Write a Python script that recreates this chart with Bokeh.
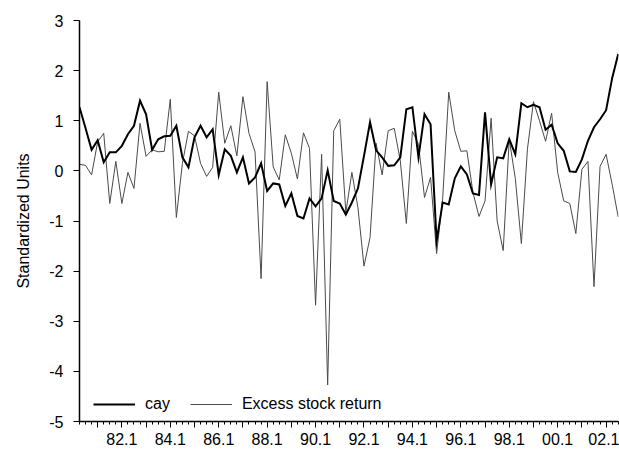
from bokeh.plotting import figure
from bokeh.models import Range1d, FixedTicker, Legend, LegendItem, ColumnDataSource
from bokeh.embed import file_html
from bokeh.resources import INLINE

# ---- data (quarterly, first observation 1980Q2) ----
start_year = 1980
start_quarter = 2

cay = [1.27, 0.85, 0.42, 0.61, 0.17, 0.37, 0.37, 0.50, 0.73, 0.90,
       1.40, 1.13, 0.42, 0.63, 0.69, 0.70, 0.90, 0.27, 0.07, 0.67,
       0.90, 0.67, 0.83, -0.08, 0.43, 0.30, -0.03, 0.27, -0.25, -0.13,
       0.15, -0.40, -0.25, -0.27, -0.70, -0.45, -0.90, -0.95, -0.55, -0.71,
       -0.55, 0.01, -0.60, -0.65, -0.87, -0.63, -0.35, 0.30, 0.97, 0.41,
       0.27, 0.10, 0.11, 0.27, 1.23, 1.27, 0.27, 1.13, 0.93, -1.40,
       -0.63, -0.67, -0.15, 0.09, -0.07, -0.45, -0.48, 1.17, -0.27, 0.27,
       0.25, 0.63, 0.33, 1.35, 1.27, 1.32, 1.27, 0.82, 0.92, 0.55,
       0.40, -0.01, -0.02, 0.23, 0.60, 0.87, 1.03, 1.21, 1.85, 2.33]

excess = [0.13, 0.11, -0.08, 0.58, 0.75, -0.65, 0.19, -0.65, -0.03, -0.35,
          0.95, 0.29, 0.42, 0.38, 0.39, 1.43, -0.93, 0.15, 0.79, 0.70,
          0.15, -0.11, 0.07, 1.57, 0.55, 0.90, 0.30, 1.48, 0.75, 0.38,
          -2.15, 1.78, 0.08, -0.18, 0.72, 0.35, -0.16, 0.76, 0.45, -2.68,
          0.33, -4.27, 0.80, 1.03, -0.83, -0.03, -0.73, -1.90, -1.33, 0.55,
          -0.08, 0.80, 0.85, 0.20, -1.05, 0.79, 0.53, -0.53, -0.13, -1.65,
          -0.55, 1.57, 0.80, 0.39, 0.40, -0.43, -0.91, -0.60, 1.05, -1.00,
          -1.59, 0.63, -0.15, -1.45, 0.43, 1.38, 1.00, 0.59, 1.15, -0.03,
          -0.60, -0.65, -1.25, 0.03, 0.19, -2.31, 0.09, 0.33, -0.27, -0.92]

series_names = ["cay", "Excess stock return"]
y_ticks = [-5, -4, -3, -2, -1, 0, 1, 2, 3]
y_tick_labels = ["-5", "-4", "-3", "-2", "-1", "0", "1", "2", "3"]
year_ticks = list(range(1981, 2003))
label_years = [1982, 1984, 1986, 1988, 1990, 1992, 1994, 1996, 1998, 2000, 2002]
label_texts = ["82.1", "84.1", "86.1", "88.1", "90.1", "92.1", "94.1", "96.1", "98.1", "00.1", "02.1"]

# ---- derived ----
x = [start_year + (start_quarter - 1 + i) / 4 for i in range(len(cay))]
quarter_ticks = list(x)
src = ColumnDataSource(dict(x=x, cay=cay, excess=excess))

FONT = "Liberation Sans"

p = figure(width=619, height=452, output_backend="svg", toolbar_location=None,
           x_range=Range1d(x[0], x[-1] + 0.012), y_range=Range1d(-5, 3),
           min_border_left=79, min_border_top=20, min_border_bottom=31, min_border_right=1)
p.outline_line_color = None
p.background_fill_color = "white"
p.border_fill_color = "white"
p.xgrid.visible = False
p.ygrid.visible = False

r_exc = p.line("x", "excess", source=src, line_color="#4a4a4a", line_width=1, line_join="miter")
r_cay = p.line("x", "cay", source=src, line_color="black", line_width=2, line_join="miter")

# y axis
ya = p.yaxis[0]
ya.ticker = FixedTicker(ticks=y_ticks, minor_ticks=[])
ya.major_label_overrides = dict(zip(y_ticks, y_tick_labels))
ya.axis_label = "Standardized Units"
ya.axis_label_text_font = FONT
ya.axis_label_text_font_size = "16px"
ya.axis_label_text_font_style = "normal"
ya.axis_label_text_color = "black"
ya.axis_label_standoff = 14
ya.major_label_text_font = FONT
ya.major_label_text_font_size = "16px"
ya.major_label_text_color = "black"
ya.major_label_standoff = 10
ya.major_tick_out = 6
ya.major_tick_in = 0
ya.axis_line_width = 1.5
ya.axis_line_color = "black"
ya.major_tick_line_color = "black"

# x axis
xa = p.xaxis[0]
xa.ticker = FixedTicker(ticks=year_ticks, minor_ticks=quarter_ticks)
overrides = {yr: "" for yr in year_ticks}
for yr, t in zip(label_years, label_texts):
    overrides[yr] = t
xa.major_label_overrides = overrides
xa.major_label_text_font = FONT
xa.major_label_text_font_size = "16px"
xa.major_label_text_color = "black"
xa.major_label_standoff = 5
xa.major_tick_out = 6
xa.major_tick_in = 0
xa.minor_tick_out = 3
xa.minor_tick_in = 0
xa.axis_line_width = 1.5
xa.axis_line_color = "black"
xa.major_tick_line_color = "black"
xa.minor_tick_line_color = "black"

legend = Legend(items=[LegendItem(label=series_names[0], renderers=[r_cay]),
                       LegendItem(label=series_names[1], renderers=[r_exc])],
                location=(14, 7), orientation="horizontal",
                glyph_width=42, glyph_height=20, label_height=20,
                label_standoff=10, spacing=20, padding=0, margin=0,
                border_line_color=None, background_fill_alpha=0,
                label_text_font=FONT, label_text_font_size="16px", label_text_color="black")
p.add_layout(legend)

open("out.html", "w").write(file_html(p, INLINE))
